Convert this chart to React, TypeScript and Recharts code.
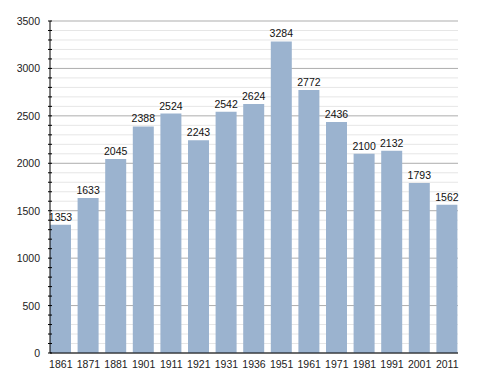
import React from "react";
import { BarChart, Bar, XAxis, YAxis, CartesianGrid, LabelList } from "recharts";

const years = ["1861", "1871", "1881", "1901", "1911", "1921", "1931", "1936", "1951", "1961", "1971", "1981", "1991", "2001", "2011"];
const population = [1353, 1633, 2045, 2388, 2524, 2243, 2542, 2624, 3284, 2772, 2436, 2100, 2132, 1793, 1562];
const yTicks = Array.from({ length: 36 }, (_, i) => i * 100);
const majorTicks = yTicks.filter((t) => t % 500 === 0);
const minorTicks = yTicks.filter((t) => t % 500 !== 0);

const data = years.map((year, i) => ({ year, value: population[i] }));

const font = "'Liberation Sans', Arial, sans-serif";

const YTick = (props: any) => {
  const { x, y, payload } = props;
  const major = payload.value % 500 === 0;
  return (
    <g>
      <line x1={x + 6} x2={x + 10} y1={y} y2={y} stroke="#000" strokeWidth={1} />
      {major && (
        <text x={x - 2} y={y} dy={4} textAnchor="end" fontSize={10.5} fontFamily={font} fill="#222">
          {payload.value}
        </text>
      )}
    </g>
  );
};

const App = () => {
  return (
    <div style={{ position: "absolute", left: 0, top: 0, background: "#fff" }}>
      <BarChart width={488} height={373} data={data} margin={{ top: 21, right: 30, left: 0, bottom: 0 }} barSize={21}>
        <CartesianGrid vertical={false} horizontalValues={minorTicks} stroke="#e6e6e6" />
        <CartesianGrid vertical={false} horizontalValues={majorTicks} stroke="#adadad" />
        <XAxis
          dataKey="year"
          height={20}
          tickLine={false}
          axisLine={{ stroke: "#000" }}
          tick={{ fontSize: 10.5, fontFamily: font, fill: "#222" }}
          tickMargin={2}
          interval={0}
          padding={{ left: -3, right: -3 }}
        />
        <YAxis
          width={50}
          domain={[0, 3500]}
          ticks={yTicks}
          interval={0}
          tickLine={false}
          axisLine={{ stroke: "#000" }}
          tick={<YTick />}
        />
        <Bar dataKey="value" fill="#9bb3cf" isAnimationActive={false}>
          <LabelList dataKey="value" position="top" offset={4} style={{ fontSize: 10.5, fontFamily: font, fill: "#111" }} />
        </Bar>
      </BarChart>
    </div>
  );
};

export default App;
